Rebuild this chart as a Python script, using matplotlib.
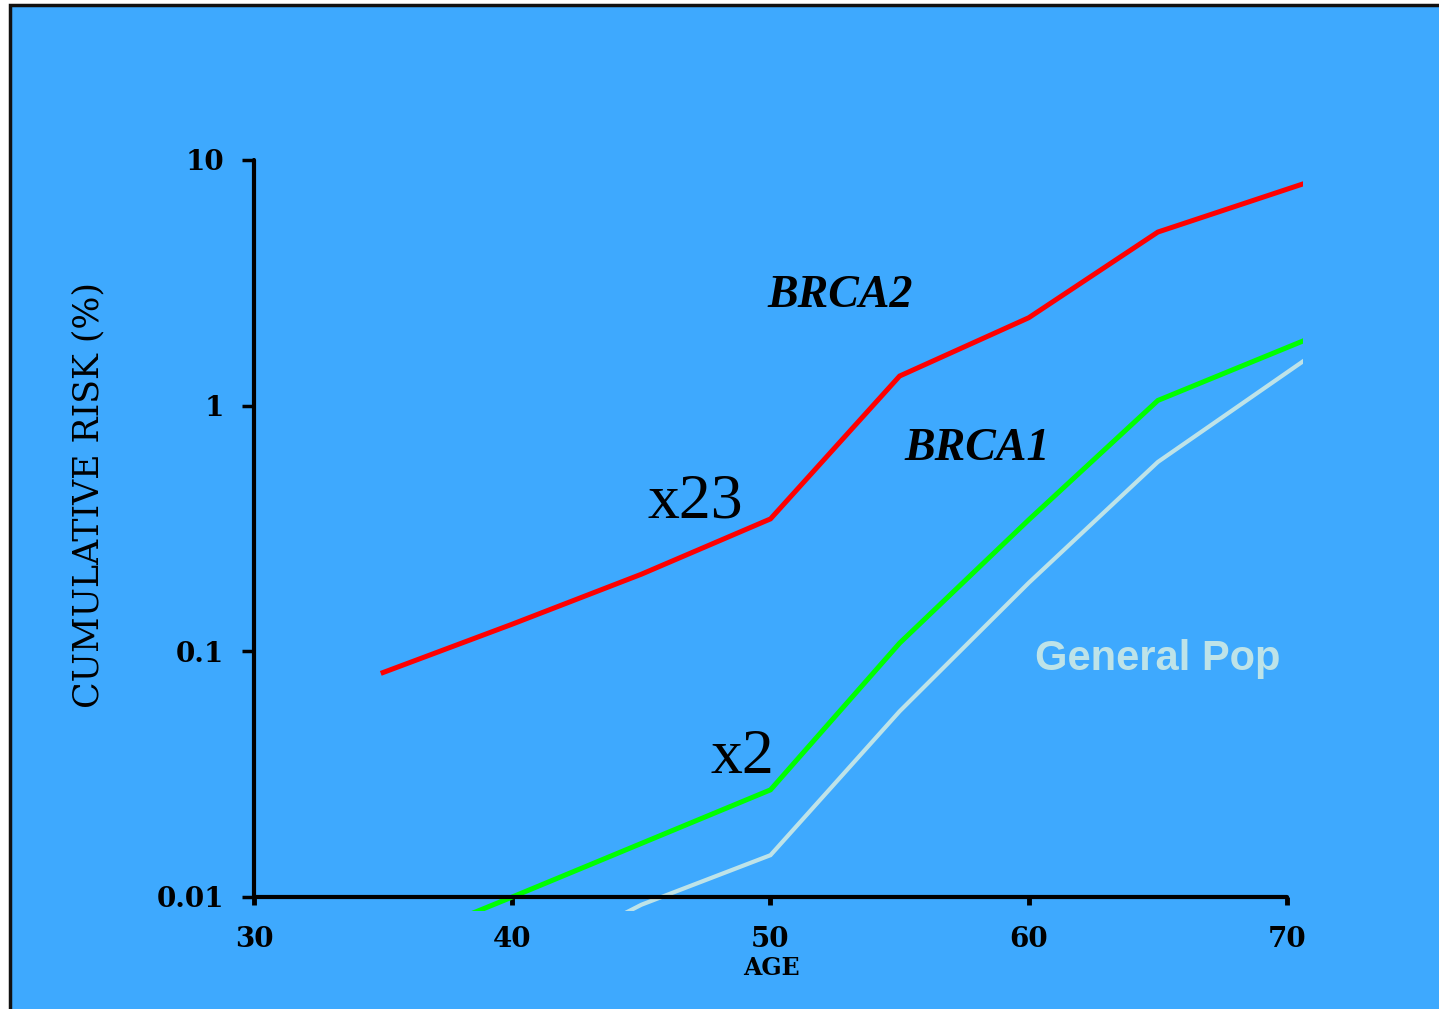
import matplotlib
matplotlib.use("Agg")
import matplotlib.pyplot as plt
from matplotlib.patches import Rectangle
from matplotlib.ticker import FixedLocator, NullLocator

# cumulative risk (%) by age
age_brca2 = [35, 40, 45, 50, 55, 60, 65, 70.6]
risk_brca2 = [0.082, 0.129, 0.206, 0.346, 1.32, 2.28, 5.09, 7.98]

age_brca1 = [35, 40, 50, 55, 60, 65, 70.6]
risk_brca1 = [0.0061, 0.010, 0.0273, 0.108, 0.343, 1.05, 1.83]

age_pop = [40, 45, 50, 55, 60, 65, 70.6]
risk_pop = [0.0050, 0.0093, 0.0148, 0.057, 0.19, 0.59, 1.51]

xticks = [30, 40, 50, 60, 70]
yticks = [0.01, 0.1, 1, 10]
ytick_labels = ["0.01", "0.1", "1", "10"]

W, H = 1439, 1009
BLUE = "#3EA9FE"
POP = "#BEE3E8"
TIMES = ["Liberation Serif", "DejaVu Serif"]

fig = plt.figure(figsize=(W / 100, H / 100), dpi=100, facecolor="white")

# blue slide panel with a dark frame
fig.patches.append(Rectangle((10 / W, -0.02), 1.05, 1.02 - 5 / H, transform=fig.transFigure,
                             facecolor=BLUE, edgecolor="#111111", linewidth=2.5, zorder=-10))

ax = fig.add_axes([254 / W, (H - 911) / H, (1303 - 254) / W, (911 - 160) / H])
ax.set_facecolor("none")
ax.set_yscale("log")
ax.set_xlim(30, 70.62)
ax.set_ylim(0.00877, 10)

ax.plot(age_brca2, risk_brca2, color="#FF0000", lw=3.6, solid_joinstyle="miter")
ax.plot(age_brca1, risk_brca1, color="#00FF00", lw=3.6, solid_joinstyle="miter")
ax.plot(age_pop, risk_pop, color=POP, lw=3.0, solid_joinstyle="miter")

for s in ["top", "right"]:
    ax.spines[s].set_visible(False)
ax.spines["bottom"].set_position(("data", 0.01))
ax.spines["bottom"].set_bounds(30, 70)
ax.spines["left"].set_bounds(0.01, 10)
for s in ["bottom", "left"]:
    ax.spines[s].set_linewidth(3)
    ax.spines[s].set_color("black")
    ax.spines[s].set_capstyle("round")

ax.xaxis.set_major_locator(FixedLocator(xticks))
ax.yaxis.set_major_locator(FixedLocator(yticks))
ax.yaxis.set_minor_locator(NullLocator())
ax.set_yticklabels(ytick_labels)
ax.tick_params(axis="y", direction="out", length=8.5, width=2.5, pad=13)
ax.tick_params(axis="x", direction="out", length=6, width=3.5, pad=15)
for lab in ax.get_xticklabels() + ax.get_yticklabels():
    lab.set_fontfamily("DejaVu Serif")
    lab.set_fontweight("bold")
    lab.set_fontsize(20)

fig.text(88 / W, 1 - 495 / H, "CUMULATIVE RISK (%)", rotation=90, ha="center", va="center",
         family="DejaVu Serif", fontsize=25, color="black")
fig.text(771 / W, 1 - 968 / H, "AGE", ha="center", va="center",
         family="DejaVu Serif", fontweight="bold", fontsize=17, color="black")

# series annotations
ax.text(52.69, 2.52, "BRCA2", ha="center", va="baseline", family=TIMES,
        fontweight="bold", style="italic", fontsize=33)
ax.text(58.0, 0.601, "BRCA1", ha="center", va="baseline", family=TIMES,
        fontweight="bold", style="italic", fontsize=33)
ax.text(47.08, 0.352, "x23", ha="center", va="baseline", family=TIMES, fontsize=46)
ax.text(48.93, 0.032, "x2", ha="center", va="baseline", family=TIMES, fontsize=46)
ax.text(65.0, 0.084, "General Pop", ha="center", va="baseline", family=["Liberation Sans", "DejaVu Sans"],
        fontweight="bold", fontsize=30, color=POP)

fig.savefig("out.png", dpi=100, facecolor="white")
